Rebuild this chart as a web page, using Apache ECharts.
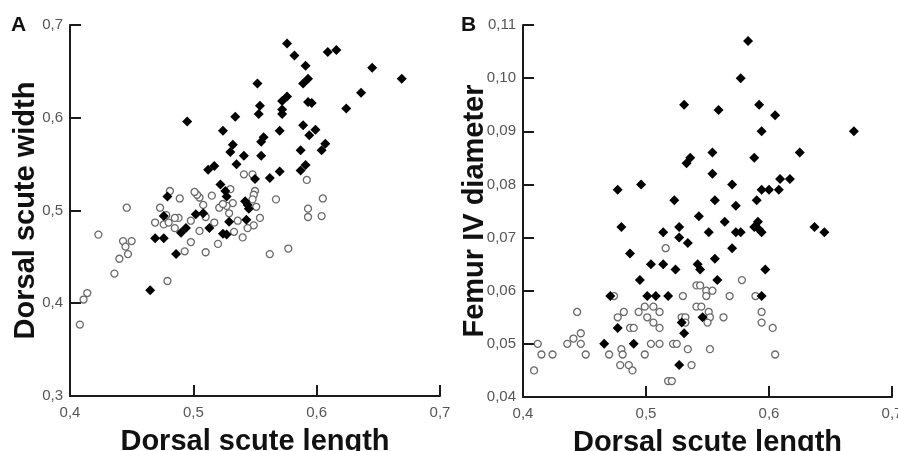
<!DOCTYPE html>
<html>
<head>
<meta charset="utf-8">
<script src="https://cdn.jsdelivr.net/npm/echarts@6/dist/echarts.min.js"></script>
<style>html,body{margin:0;padding:0;background:#fff;}#c{width:898px;height:451px;}</style>
</head>
<body>
<div id="c"></div>
<script>
// Panel A: Dorsal scute length (x) vs Dorsal scute width (y)
const aFilled = [
[0.576,0.680],[0.582,0.667],[0.609,0.671],[0.616,0.673],[0.591,0.656],[0.645,0.654],[0.669,0.642],
[0.552,0.637],[0.589,0.637],[0.593,0.642],[0.576,0.623],[0.572,0.618],[0.636,0.627],[0.593,0.617],
[0.596,0.616],[0.554,0.613],[0.572,0.609],[0.572,0.604],[0.553,0.604],[0.534,0.601],[0.495,0.596],
[0.624,0.610],[0.524,0.586],[0.570,0.586],[0.589,0.592],[0.599,0.587],[0.594,0.581],[0.557,0.579],
[0.555,0.574],[0.532,0.571],[0.530,0.563],[0.607,0.572],[0.604,0.565],[0.587,0.565],[0.555,0.559],
[0.541,0.559],[0.535,0.550],[0.517,0.548],[0.512,0.544],[0.591,0.549],[0.587,0.543],[0.570,0.542],
[0.562,0.535],[0.550,0.534],[0.522,0.528],[0.526,0.521],[0.527,0.515],[0.479,0.515],[0.542,0.510],
[0.544,0.506],[0.545,0.502],[0.502,0.496],[0.508,0.497],[0.476,0.494],[0.543,0.490],[0.529,0.488],
[0.513,0.481],[0.494,0.481],[0.490,0.476],[0.524,0.475],[0.527,0.474],[0.469,0.470],[0.476,0.470],
[0.486,0.453],[0.465,0.414]
];
const aOpen = [
[0.605,0.513],[0.592,0.533],[0.593,0.502],[0.593,0.493],[0.604,0.494],[0.567,0.512],[0.577,0.459],
[0.562,0.453],[0.554,0.492],[0.550,0.521],[0.549,0.517],[0.548,0.512],[0.551,0.504],[0.548,0.539],
[0.541,0.539],[0.549,0.484],[0.544,0.481],[0.540,0.471],[0.533,0.477],[0.536,0.489],[0.530,0.523],
[0.532,0.508],[0.529,0.497],[0.527,0.505],[0.521,0.503],[0.524,0.507],[0.520,0.464],[0.510,0.455],
[0.515,0.516],[0.517,0.487],[0.510,0.493],[0.508,0.506],[0.505,0.514],[0.503,0.517],[0.501,0.520],
[0.505,0.478],[0.498,0.489],[0.498,0.466],[0.493,0.456],[0.489,0.513],[0.488,0.492],[0.485,0.492],
[0.485,0.481],[0.481,0.521],[0.473,0.503],[0.478,0.495],[0.476,0.485],[0.480,0.487],[0.469,0.487],
[0.479,0.424],[0.446,0.503],[0.450,0.467],[0.443,0.467],[0.445,0.461],[0.447,0.453],[0.440,0.448],
[0.436,0.432],[0.423,0.474],[0.414,0.411],[0.411,0.404],[0.408,0.377]
];
// Panel B: Dorsal scute length (x) vs Femur IV diameter (y)
const bFilled = [
[0.583,0.107],[0.577,0.100],[0.531,0.095],[0.592,0.095],[0.559,0.094],[0.605,0.093],[0.594,0.090],
[0.669,0.090],[0.554,0.086],[0.625,0.086],[0.588,0.085],[0.536,0.085],[0.533,0.084],[0.554,0.082],
[0.609,0.081],[0.617,0.081],[0.496,0.080],[0.570,0.080],[0.477,0.079],[0.594,0.079],[0.600,0.079],
[0.608,0.079],[0.523,0.077],[0.556,0.077],[0.590,0.077],[0.573,0.076],[0.543,0.074],[0.564,0.073],
[0.591,0.073],[0.480,0.072],[0.527,0.072],[0.588,0.072],[0.637,0.072],[0.514,0.071],[0.551,0.071],
[0.573,0.071],[0.577,0.071],[0.594,0.071],[0.645,0.071],[0.592,0.0715],[0.527,0.070],[0.534,0.069],
[0.570,0.068],[0.487,0.067],[0.556,0.066],[0.504,0.065],[0.514,0.065],[0.542,0.065],[0.544,0.064],
[0.524,0.064],[0.597,0.064],[0.495,0.062],[0.558,0.062],[0.471,0.059],[0.501,0.059],[0.508,0.059],
[0.518,0.059],[0.594,0.059],[0.529,0.054],[0.546,0.055],[0.477,0.053],[0.531,0.052],[0.466,0.050],
[0.490,0.050],[0.527,0.046]
];
const bOpen = [
[0.516,0.068],[0.578,0.062],[0.541,0.061],[0.544,0.061],[0.549,0.060],[0.554,0.060],[0.549,0.059],
[0.530,0.059],[0.568,0.059],[0.589,0.059],[0.474,0.059],[0.541,0.057],[0.545,0.057],[0.499,0.057],
[0.506,0.057],[0.594,0.056],[0.551,0.056],[0.511,0.056],[0.494,0.056],[0.482,0.056],[0.444,0.056],
[0.477,0.055],[0.501,0.055],[0.529,0.055],[0.532,0.055],[0.552,0.055],[0.563,0.055],[0.506,0.054],
[0.532,0.054],[0.550,0.054],[0.594,0.054],[0.511,0.053],[0.487,0.053],[0.490,0.053],[0.603,0.053],
[0.447,0.052],[0.441,0.051],[0.436,0.050],[0.447,0.050],[0.412,0.050],[0.504,0.050],[0.511,0.050],
[0.522,0.050],[0.525,0.050],[0.480,0.049],[0.534,0.049],[0.552,0.049],[0.415,0.048],[0.424,0.048],
[0.451,0.048],[0.470,0.048],[0.481,0.048],[0.499,0.048],[0.605,0.048],[0.479,0.046],[0.486,0.046],
[0.537,0.046],[0.489,0.045],[0.409,0.045],[0.518,0.043],[0.521,0.043]
];
const xTickLabels = ['0,4','0,5','0,6','0,7'];
const aYTickLabels = ['0,3','0,4','0,5','0,6','0,7'];
const bYTickLabels = ['0,04','0,05','0,06','0,07','0,08','0,09','0,10','0,11'];
const xName = 'Dorsal scute length';
const aYName = 'Dorsal scute width';
const bYName = 'Femur IV diameter';
const panelLetters = ['A','B'];

const chart = echarts.init(document.getElementById('c'), null, {renderer:'canvas'});
const FONT = 'Liberation Sans, Arial, sans-serif';
const axisLine = {show:true, onZero:false, lineStyle:{color:'#1a1a1a', width:2}};
const axisTick = {show:true, inside:true, length:11, lineStyle:{color:'#1a1a1a', width:2}};
const lbl = (arr) => ({color:'#555', fontSize:15, fontFamily:FONT, formatter:(v,i)=>arr[i] !== undefined ? arr[i] : ''});
const nameStyle = {color:'#111', fontSize:29, fontWeight:'bold', fontFamily:FONT};

function xAxis(gi){
  return {type:'value', gridIndex:gi, min:0.4, max:0.7, interval:0.1, splitLine:{show:false},
    axisLine, axisTick, axisLabel:{...lbl(xTickLabels), margin:9},
    name:xName, nameLocation:'middle', nameGap:31, nameMoveOverlap:false, nameTextStyle:nameStyle};
}
const filledStyle = {type:'scatter', symbol:'diamond', symbolSize:10, itemStyle:{color:'#000', opacity:1}, silent:true};
const openStyle = {type:'scatter', symbol:'circle', symbolSize:7, itemStyle:{color:'#fff', borderColor:'#6a6a6a', borderWidth:1.3, opacity:1}, silent:true};

chart.setOption({
  animation:false,
  backgroundColor:'#fff',
  graphic:[
    {type:'text', left:11, top:15, style:{text:panelLetters[0], font:'bold 21px '+FONT, fill:'#111'}},
    {type:'text', left:461, top:15, style:{text:panelLetters[1], font:'bold 21px '+FONT, fill:'#111'}}
  ],
  grid:[
    {left:70, top:25, width:370, height:371, containLabel:false, outerBoundsMode:'none'},
    {left:523, top:25, width:369, height:372, containLabel:false, outerBoundsMode:'none'}
  ],
  xAxis:[xAxis(0), xAxis(1)],
  yAxis:[
    {type:'value', gridIndex:0, min:0.3, max:0.7, interval:0.1, splitLine:{show:false},
      axisLine, axisTick, axisLabel:{...lbl(aYTickLabels), margin:7},
      name:aYName, nameLocation:'middle', nameGap:30, nameMoveOverlap:false, nameTextStyle:nameStyle},
    {type:'value', gridIndex:1, min:0.04, max:0.11, interval:0.01, splitLine:{show:false},
      axisLine, axisTick, axisLabel:{...lbl(bYTickLabels), margin:7},
      name:bYName, nameLocation:'middle', nameGap:34, nameMoveOverlap:false, nameTextStyle:nameStyle}
  ],
  series:[
    {...openStyle, xAxisIndex:0, yAxisIndex:0, data:aOpen},
    {...filledStyle, xAxisIndex:0, yAxisIndex:0, data:aFilled},
    {...openStyle, xAxisIndex:1, yAxisIndex:1, data:bOpen},
    {...filledStyle, xAxisIndex:1, yAxisIndex:1, data:bFilled}
  ]
});
</script>
</body>
</html>
